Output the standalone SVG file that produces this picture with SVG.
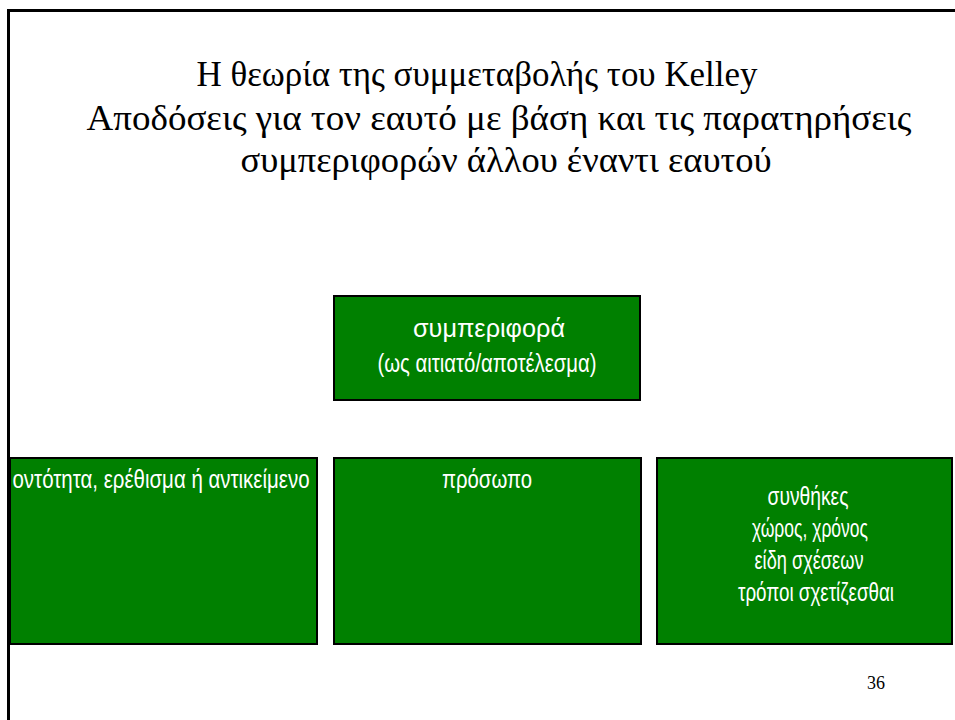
<svg xmlns="http://www.w3.org/2000/svg" width="955" height="720" viewBox="0 0 955 720">
<rect x="0" y="0" width="955" height="720" fill="#fff"/>
<path d="M8.5 720 V10.5 H955" fill="none" stroke="#000" stroke-width="3"/>
<g id="heading" font-family="'Liberation Serif', 'DejaVu Serif', serif" font-size="35" fill="#000" text-anchor="middle">
<text x="477" y="86" textLength="561" lengthAdjust="spacingAndGlyphs">Η θεωρία της συμμεταβολής του Kelley</text>
<text x="499" y="130" textLength="825" lengthAdjust="spacingAndGlyphs">Αποδόσεις για τον εαυτό με βάση και τις παρατηρήσεις</text>
<text x="506" y="172" textLength="531" lengthAdjust="spacingAndGlyphs">συμπεριφορών άλλου έναντι εαυτού</text>
</g>
<g id="connectors"></g>
<g id="node-behaviour" font-family="'Liberation Sans', Arial, sans-serif" font-size="25" fill="#fff" text-anchor="middle">
<rect x="334" y="296" width="306" height="104" fill="#008000" stroke="#000" stroke-width="2"/>
<text x="489" y="337" textLength="152" lengthAdjust="spacingAndGlyphs">συμπεριφορά</text>
<text x="487" y="372" textLength="219" lengthAdjust="spacingAndGlyphs">(ως αιτιατό/αποτέλεσμα)</text>
</g>
<g id="node-entity" font-family="'Liberation Sans', Arial, sans-serif" font-size="25" fill="#fff" text-anchor="middle">
<rect x="10" y="458" width="307" height="186" fill="#008000" stroke="#000" stroke-width="2"/>
<text x="161" y="488" textLength="297" lengthAdjust="spacingAndGlyphs">οντότητα, ερέθισμα ή αντικείμενο</text>
</g>
<g id="node-person" font-family="'Liberation Sans', Arial, sans-serif" font-size="25" fill="#fff" text-anchor="middle">
<rect x="334" y="458" width="307" height="186" fill="#008000" stroke="#000" stroke-width="2"/>
<text x="487" y="488" textLength="90" lengthAdjust="spacingAndGlyphs">πρόσωπο</text>
</g>
<g id="node-conditions" font-family="'Liberation Sans', Arial, sans-serif" font-size="25" fill="#fff" text-anchor="middle">
<rect x="657" y="458" width="295" height="186" fill="#008000" stroke="#000" stroke-width="2"/>
<text x="808" y="505" textLength="81" lengthAdjust="spacingAndGlyphs">συνθήκες</text>
<text x="810" y="537" textLength="116" lengthAdjust="spacingAndGlyphs">χώρος, χρόνος</text>
<text x="809" y="569" textLength="109" lengthAdjust="spacingAndGlyphs">είδη σχέσεων</text>
<text x="816" y="601" textLength="156" lengthAdjust="spacingAndGlyphs">τρόποι σχετίζεσθαι</text>
</g>
<text font-family="'Liberation Serif', serif" font-size="18" fill="#000" x="876" y="689" text-anchor="middle">36</text>
</svg>
